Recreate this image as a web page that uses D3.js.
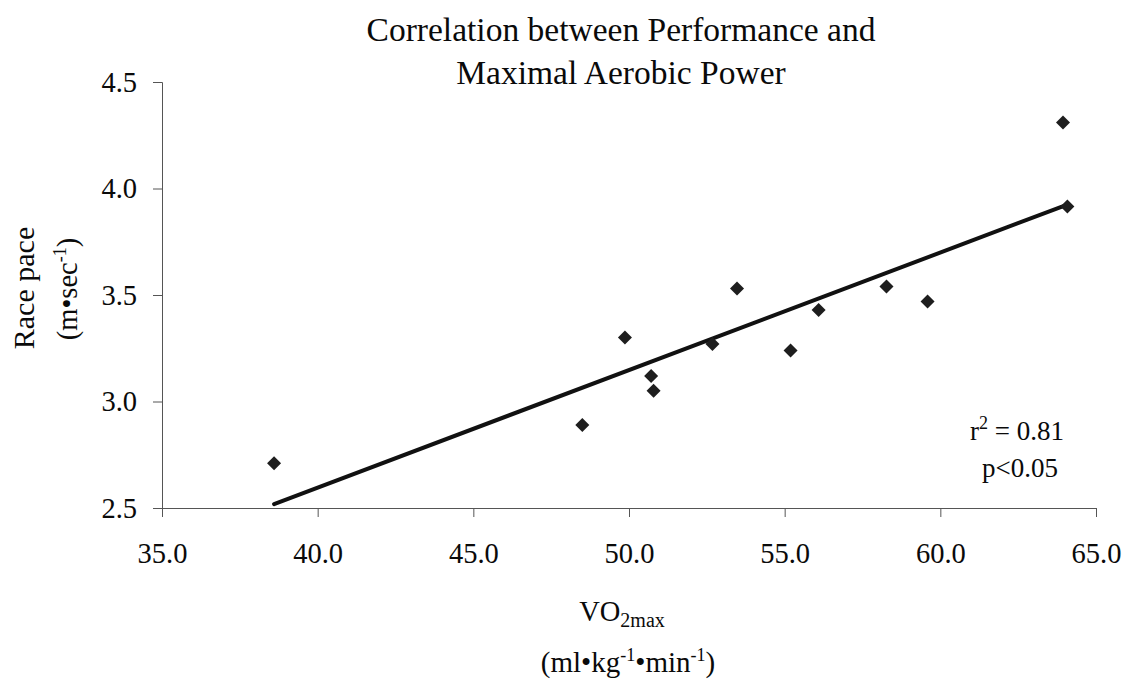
<!DOCTYPE html>
<html>
<head>
<meta charset="utf-8">
<script src="https://cdn.jsdelivr.net/npm/d3@7"></script>
<style>
  html, body { margin: 0; padding: 0; background: #fff; }
  svg { display: block; }
  text { font-family: "Liberation Serif", "Times New Roman", serif; fill: #0a0a0a; }
</style>
</head>
<body>
<svg id="chart" width="1124" height="683"></svg>
<script>
// Data
const vo2max = [38.6, 48.5, 49.87, 50.71, 50.79, 52.68, 53.47, 55.19, 56.09, 58.27, 59.59, 63.94, 64.08];
const racePace = [2.71, 2.89, 3.30, 3.12, 3.05, 3.27, 3.53, 3.24, 3.43, 3.54, 3.47, 4.31, 3.915];
const xTicks = [35, 40, 45, 50, 55, 60, 65];
const yTicks = [2.5, 3.0, 3.5, 4.0, 4.5];
const titleLines = ["Correlation between Performance and", "Maximal Aerobic Power"];
const statLines = ["0.81", "p<0.05"];

const svg = d3.select("#chart");
const x = d3.scaleLinear().domain([35, 65]).range([162, 1096]);
const y = d3.scaleLinear().domain([2.5, 4.5]).range([508, 82]);

// Title
svg.append("g").selectAll("text").data(titleLines).join("text")
  .attr("x", 621).attr("y", (d, i) => 41 + i * 43)
  .attr("text-anchor", "middle").style("font-size", "33.5px").text(d => d);

// Axes
const yAxis = svg.append("g").attr("transform", `translate(${x(35)},0)`)
  .call(d3.axisLeft(y).tickValues(yTicks).tickFormat(d3.format(".1f")).tickSize(9).tickPadding(16));
const xAxis = svg.append("g").attr("transform", `translate(0,${y(2.5)})`)
  .call(d3.axisBottom(x).tickValues(xTicks).tickFormat(d3.format(".1f")).tickSize(9).tickPadding(26));
[xAxis, yAxis].forEach(a => {
  a.selectAll("path, line").attr("stroke", "#555").attr("stroke-width", 1);
  a.selectAll("text").style("font-size", "28.5px").style("font-family", "Liberation Serif").attr("fill", "#0a0a0a");
});

// Regression line computed from the data
const mx = d3.mean(vo2max), my = d3.mean(racePace);
const slope = d3.sum(vo2max, (v, i) => (v - mx) * (racePace[i] - my)) / d3.sum(vo2max, v => (v - mx) ** 2);
const icpt = my - slope * mx;
const [x0, x1] = d3.extent(vo2max);
svg.append("line")
  .attr("x1", x(x0)).attr("y1", y(icpt + slope * x0))
  .attr("x2", x(x1)).attr("y2", y(icpt + slope * x1))
  .attr("stroke", "#111").attr("stroke-width", 4).attr("stroke-linecap", "round");

// Points
const sym = d3.symbol().type(d3.symbolDiamond2).size(125);
svg.append("g").selectAll("path").data(vo2max).join("path")
  .attr("transform", (d, i) => `translate(${x(d)},${y(racePace[i])})`)
  .attr("d", sym).attr("fill", "#1e1e1e");

// Stats annotation
const st = svg.append("text").attr("x", 1017).attr("y", 440).attr("text-anchor", "middle").style("font-size", "27px");
st.append("tspan").text("r");
st.append("tspan").attr("dy", -11).style("font-size", "18px").text("2");
st.append("tspan").attr("dy", 11).text(" = " + statLines[0]);
svg.append("text").attr("x", 1020).attr("y", 477).attr("text-anchor", "middle").style("font-size", "27px").text(statLines[1]);

// X axis label
const xl = svg.append("text").attr("x", 622).attr("y", 621).attr("text-anchor", "middle").style("font-size", "28.5px");
xl.append("tspan").text("VO");
xl.append("tspan").attr("dy", 6).style("font-size", "20px").text("2max");
const xl2 = svg.append("text").attr("x", 628).attr("y", 672).attr("text-anchor", "middle").style("font-size", "29px");
xl2.append("tspan").text("(ml•kg");
xl2.append("tspan").attr("dy", -11).style("font-size", "18px").text("-1");
xl2.append("tspan").attr("dy", 11).text("•min");
xl2.append("tspan").attr("dy", -11).style("font-size", "18px").text("-1");
xl2.append("tspan").attr("dy", 11).text(")");

// Y axis label
svg.append("text").attr("transform", "translate(34,288) rotate(-90)")
  .attr("text-anchor", "middle").style("font-size", "30px").text("Race pace");
const yl2 = svg.append("text").attr("transform", "translate(77,289) rotate(-90)")
  .attr("text-anchor", "middle").style("font-size", "28.5px");
yl2.append("tspan").text("(m•sec");
yl2.append("tspan").attr("dy", -11).style("font-size", "18px").text("-1");
yl2.append("tspan").attr("dy", 11).text(")");
</script>
</body>
</html>
